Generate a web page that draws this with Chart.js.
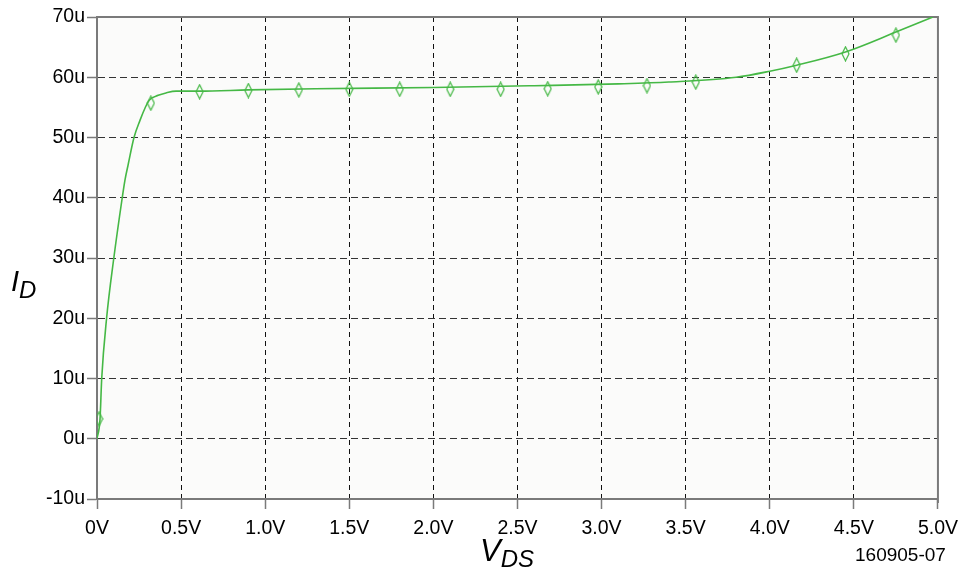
<!DOCTYPE html>
<html>
<head>
<meta charset="utf-8">
<script src="https://cdn.jsdelivr.net/npm/chart.js@4/dist/chart.umd.min.js"></script>
<style>
  body { margin: 0; background: #fff; }
  #wrap { position: relative; width: 966px; height: 574px; font-family: "Liberation Sans", Arial, sans-serif; color: #000; }
  .lbl { position: absolute; line-height: 1; white-space: nowrap; }
</style>
</head>
<body>
<div id="wrap">
  <canvas id="chart" width="966" height="574"></canvas>
  <div class="lbl" style="left:11px; top:267px; font-size:29px; font-style:italic;">I<span style="font-size:24px; vertical-align:-7px;">D</span></div>
  <div class="lbl" style="left:480px; top:535px; font-size:31px; font-style:italic;">V<span style="font-size:24px; vertical-align:-6px;">DS</span></div>
  <div class="lbl" style="left:855px; top:545px; font-size:19px;">160905-07</div>
</div>
<script>
// I-V curve (V, uA)
const vdsCurve = [0, 0.018, 0.028, 0.057, 0.10, 0.15, 0.166, 0.186, 0.22, 0.255, 0.289, 0.31, 0.364, 0.41, 0.47, 0.61, 0.90, 1.3, 2.0, 2.6, 3.1, 3.4, 3.8, 4.0, 4.16, 4.45, 4.75, 4.97];
const idCurve  = [0, 3.3, 10, 20, 30, 40, 42.9, 45.6, 50, 52.8, 55.1, 56.2, 57.0, 57.4, 57.7, 57.7, 57.9, 58.1, 58.3, 58.6, 58.9, 59.2, 60.0, 61.0, 62.0, 64.2, 67.5, 70.0];

// simulation markers
const vdsMarkers = [0.012, 0.32, 0.61, 0.90, 1.2, 1.5, 1.8, 2.1, 2.4, 2.68, 2.98, 3.27, 3.56, 4.16, 4.45, 4.75];
const idMarkers  = [3.3, 55.7, 57.6, 57.8, 57.9, 58.0, 58.0, 58.0, 58.0, 58.1, 58.4, 58.6, 59.2, 62.0, 63.9, 67.0];

const green = '#45b845';
const axisGray = '#7a7a7a';

// narrow open diamond used for the markers
function diamond() {
    const c = document.createElement('canvas');
    c.width = 9; c.height = 16;
    const g = c.getContext('2d');
    g.strokeStyle = green;
    g.lineWidth = 1.2;
    g.beginPath();
    g.moveTo(4.5, 1);
    g.lineTo(8, 8);
    g.lineTo(4.5, 15);
    g.lineTo(1, 8);
    g.closePath();
    g.stroke();
    return c;
}

// plot background + solid frame on top and right side
const framePlugin = {
    id: 'frame',
    beforeDraw(chart) {
        const a = chart.chartArea;
        const c = chart.ctx;
        c.save();
        c.fillStyle = '#fbfbfa';
        c.fillRect(a.left, a.top, a.right - a.left, a.bottom - a.top);
        c.restore();
    },
    beforeDatasetsDraw(chart) {
        const a = chart.chartArea;
        const c = chart.ctx;
        c.save();
        c.strokeStyle = axisGray;
        c.lineWidth = 2;
        c.beginPath();
        c.moveTo(a.left, a.top);
        c.lineTo(a.right, a.top);
        c.lineTo(a.right, a.bottom + 4);
        c.stroke();
        c.restore();
    }
};

const tickFont = { family: '"Liberation Sans", Arial, sans-serif', size: 19.5 };

new Chart(document.getElementById('chart'), {
    type: 'line',
    data: {
        datasets: [
            {
                data: vdsCurve.map((v, i) => ({ x: v, y: idCurve[i] })),
                borderColor: green,
                borderWidth: 1.6,
                pointRadius: 0,
                cubicInterpolationMode: 'monotone',
                fill: false
            },
            {
                data: vdsMarkers.map((v, i) => ({ x: v, y: idMarkers[i] })),
                showLine: false,
                pointStyle: diamond(),
                pointRadius: 6,
                borderColor: green
            }
        ]
    },
    options: {
        responsive: false,
        animation: false,
        layout: { padding: { top: 17, right: 26, left: 0, bottom: 0 } },
        plugins: { legend: { display: false }, tooltip: { enabled: false } },
        scales: {
            x: {
                type: 'linear',
                min: 0,
                max: 5,
                ticks: {
                    stepSize: 0.5,
                    color: '#000',
                    font: tickFont,
                    padding: 8,
                    maxRotation: 0,
                    callback: v => v === 0 ? '0V' : v.toFixed(1) + 'V'
                },
                grid: { color: '#111', lineWidth: 1, tickLength: 10, tickColor: axisGray, tickWidth: 1.5 },
                border: { color: axisGray, width: 2, dash: [5, 4] },
                afterFit: s => { s.height = 75; }
            },
            y: {
                min: -10,
                max: 70,
                ticks: {
                    stepSize: 10,
                    color: '#000',
                    font: tickFont,
                    padding: 2,
                    callback: v => v + 'u'
                },
                grid: { color: '#333', lineWidth: 1, tickLength: 10, tickColor: axisGray, tickWidth: 1.5 },
                border: { color: axisGray, width: 2, dash: [7, 4] },
                afterFit: s => { s.width = 97; }
            }
        }
    },
    plugins: [framePlugin]
});
</script>
</body>
</html>
